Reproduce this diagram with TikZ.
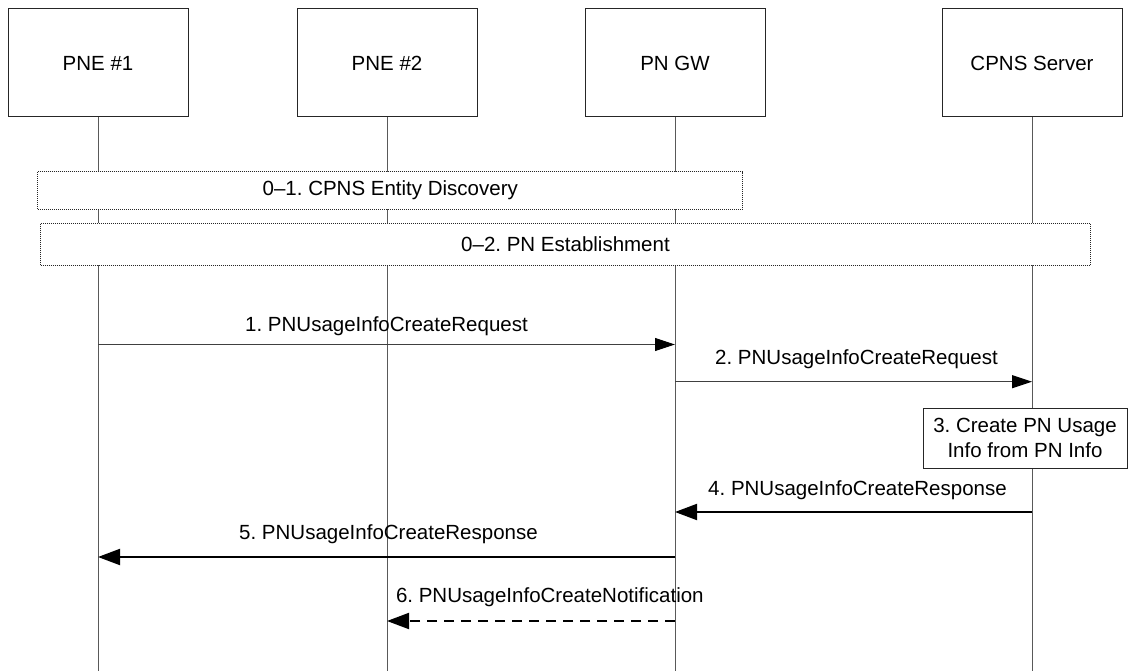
\documentclass[tikz,border=0pt]{standalone}
\usepackage{fontspec}
\setmainfont{Liberation Sans}
\usetikzlibrary{arrows.meta}
\frenchspacing
\begin{document}
\begin{tikzpicture}[x=1pt,y=-1pt,
  every node/.style={font=\fontsize{20.5}{25}\selectfont\frenchspacing},
  actor/.style={draw=black!85, line width=1pt, minimum width=180pt, minimum height=108pt, inner sep=0pt},
  life/.style={draw=black!65, line width=1pt},
  grp/.style={draw=black!85, line width=0.9pt, dash pattern=on 1pt off 1pt, fill=white, inner sep=0pt},
  note/.style={draw=black!85, line width=1pt, fill=white, inner sep=0pt, align=center},
  msg/.style={line width=1pt, draw=black!75, -{Triangle[length=20pt,width=13pt,fill=black,color=black]}},
  msgb/.style={line width=2pt, draw=black, -{Triangle[length=22pt,width=16pt]}},
  msgd/.style={msgb, dash pattern=on 10pt off 7pt},
  lbl/.style={anchor=base, inner sep=0pt},
]
\useasboundingbox (0,0) rectangle (1133,671);
% actors
\node[actor] (pne1) at (98,63) {PNE \#1};
\node[actor] (pne2) at (387,63) {PNE \#2};
\node[actor] (gw) at (675,63) {PN GW};
\node[actor] (srv) at (1032,63) {CPNS Server};
\coordinate (bot) at (0,671);
\foreach \n in {pne1,pne2,gw,srv} \draw[life] (\n.south) -- (\n.south |- bot);
% groups
\node[grp, minimum width=705pt, minimum height=37.6pt] (g1) at (390.3,190.5) {0--1. CPNS Entity Discovery};
\node[grp, minimum width=1050pt, minimum height=41.7pt] (g2) at (565.5,244.2) {0--2. PN Establishment};
% message rows
\coordinate (y1) at (0,344.5);
\coordinate (y2) at (0,381.7);
\coordinate (y4) at (0,512);
\coordinate (y5) at (0,557);
\coordinate (y6) at (0,621);
% 1
\draw[msg] (pne1 |- y1) -- (gw |- y1)
  node[lbl, midway, yshift=13pt] (l1) {1. PNUsageInfoCreateRequest};
% 2
\draw[msg] (gw |- y2) -- (srv |- y2)
  node[lbl, midway, yshift=17pt, xshift=3pt] (l2) {2. PNUsageInfoCreateRequest};
% 3
\node[note, minimum width=204pt, minimum height=60pt] (b3) at (1025,438.3) {3. Create PN Usage\\Info from PN Info};
% 4
\draw[msgb] (srv |- y4) -- (gw |- y4)
  node[lbl, midway, yshift=17pt, xshift=4pt] (l4) {4. PNUsageInfoCreateResponse};
% 5
\draw[msgb] (gw |- y5) -- (pne1 |- y5)
  node[lbl, midway, yshift=18pt, xshift=2pt] (l5) {5. PNUsageInfoCreateResponse};
% 6
\draw[msgd] (gw |- y6) -- (pne2 |- y6)
  node[lbl, pos=1, anchor=base west, xshift=8pt, yshift=19pt] (l6) {6. PNUsageInfoCreateNotification};
\end{tikzpicture}
\end{document}
